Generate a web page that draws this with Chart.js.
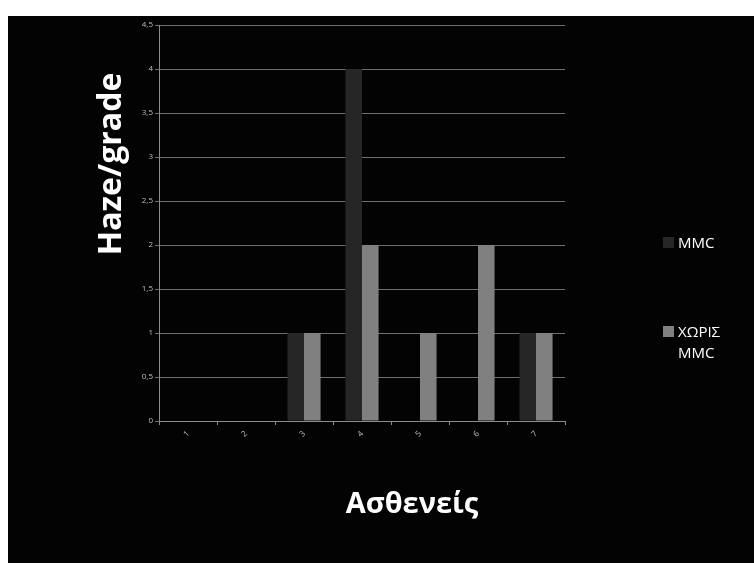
<!DOCTYPE html>
<html>
<head>
<meta charset="utf-8">
<script src="https://cdn.jsdelivr.net/npm/chart.js@4/dist/chart.umd.min.js"></script>
<style>
  html, body { margin: 0; padding: 0; background: #ffffff; }
  #wrap { width: 754px; height: 563px; }
</style>
</head>
<body>
<div id="wrap"><canvas id="c" width="754" height="563"></canvas></div>
<script>
// Patients 1-7, haze grade per group
const categories = ['1', '2', '3', '4', '5', '6', '7'];
const mmcValues = [0, 0, 1, 4, 0, 0, 1];
const noMmcValues = [0, 0, 1, 2, 1, 2, 1];
const yTickValues = [0, 0.5, 1, 1.5, 2, 2.5, 3, 3.5, 4, 4.5];

const seriesNames = ['MMC', 'ΧΩΡΙΣ MMC'];
const seriesColors = ['#262626', '#808080'];

const yTitle = 'Haze/grade';
const xTitle = 'Ασθενείς';

// black slide panel behind the chart
const panel = {
  id: 'panel',
  beforeDraw(chart) {
    const ctx = chart.ctx;
    ctx.save();
    ctx.fillStyle = '#ffffff';
    ctx.fillRect(0, 0, chart.width, chart.height);
    ctx.fillStyle = '#030303';
    ctx.fillRect(8, 16, chart.width - 8, chart.height - 16);
    ctx.restore();
  }
};

// axis titles and the legend on the right
const annotations = {
  id: 'annotations',
  afterDraw(chart) {
    const ctx = chart.ctx;
    ctx.save();
    ctx.fillStyle = '#ffffff';
    ctx.textAlign = 'center';
    ctx.textBaseline = 'alphabetic';
    ctx.font = 'bold 29px "Open Sans", "Noto Sans", sans-serif';
    ctx.fillText(xTitle, 412, 513);

    ctx.font = 'bold 32px "Open Sans", "Noto Sans", sans-serif';
    ctx.translate(121, 164);
    ctx.rotate(-Math.PI / 2);
    ctx.fillText(yTitle, 0, 0);
    ctx.restore();

    ctx.save();
    ctx.font = '15px "Open Sans", "Noto Sans", sans-serif';
    ctx.textAlign = 'left';
    ctx.textBaseline = 'alphabetic';
    // first entry
    ctx.fillStyle = seriesColors[0];
    ctx.fillRect(663, 237, 11, 11);
    ctx.fillStyle = '#ffffff';
    ctx.fillText('MMC', 678, 248);
    // second entry, wrapped onto two lines
    ctx.fillStyle = seriesColors[1];
    ctx.fillRect(663, 326, 11, 11);
    ctx.fillStyle = '#ffffff';
    const words = seriesNames[1].split(' ');
    ctx.fillText(words[0], 678, 337);
    ctx.fillText(words[1], 678, 358);
    ctx.restore();
  }
};

new Chart(document.getElementById('c'), {
  type: 'bar',
  data: {
    labels: categories,
    datasets: [
      { label: seriesNames[0], data: mmcValues, backgroundColor: seriesColors[0] },
      { label: seriesNames[1], data: noMmcValues, backgroundColor: seriesColors[1] }
    ]
  },
  options: {
    responsive: false,
    animation: false,
    devicePixelRatio: 1,
    layout: { padding: { left: 0, right: 189, top: 25, bottom: 0 } },
    datasets: { bar: { categoryPercentage: 2 / 3.5, barPercentage: 1.0 } },
    plugins: { legend: { display: false }, tooltip: { enabled: false } },
    scales: {
      x: {
        afterFit(scale) { scale.height = 142; },
        border: { display: true, color: '#8c8c8c', width: 1 },
        grid: { display: true, drawOnChartArea: false, drawTicks: true, tickLength: 4, color: '#8c8c8c', offset: true },
        ticks: {
          color: '#bfbfbf',
          font: { size: 8, family: '"Open Sans", "Noto Sans", sans-serif' },
          minRotation: 45,
          maxRotation: 45,
          padding: 4
        }
      },
      y: {
        min: 0,
        max: 4.5,
        afterFit(scale) { scale.width = 159; },
        afterBuildTicks(scale) { scale.ticks = yTickValues.map(v => ({ value: v })); },
        border: { display: true, color: '#8c8c8c', width: 1 },
        grid: { color: '#6e6e6e', lineWidth: 1, tickLength: 4, drawTicks: true },
        ticks: {
          color: '#bfbfbf',
          font: { size: 8, family: '"Open Sans", "Noto Sans", sans-serif' },
          padding: 2,
          callback: v => String(v).replace('.', ',')
        }
      }
    }
  },
  plugins: [panel, annotations]
});
</script>
</body>
</html>
